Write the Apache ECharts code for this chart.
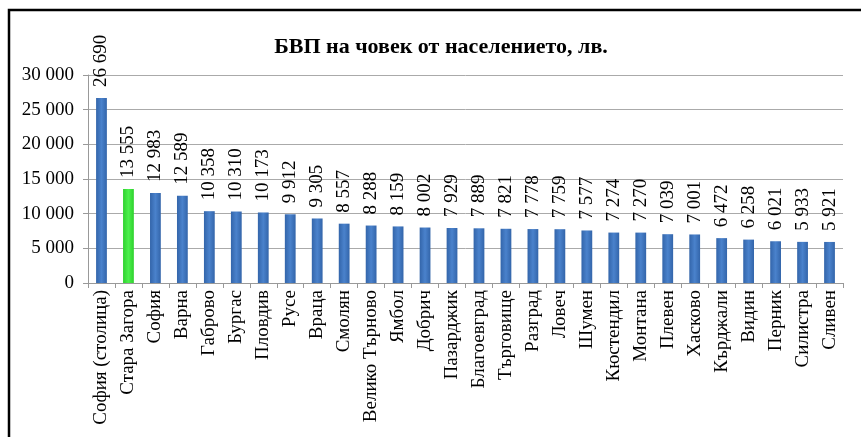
<!DOCTYPE html>
<html><head><meta charset="utf-8">
<script src="https://cdn.jsdelivr.net/npm/echarts@6/dist/echarts.min.js"></script>
<style>html,body{margin:0;padding:0;background:#fff}#c{width:861px;height:437px}</style>
</head><body><div id="c"></div>
<script>
const categories = ["София (столица)","Стара Загора","София","Варна","Габрово","Бургас","Пловдив","Русе","Враца","Смолян","Велико Търново","Ямбол","Добрич","Пазарджик","Благоевград","Търговище","Разград","Ловеч","Шумен","Кюстендил","Монтана","Плевен","Хасково","Кърджали","Видин","Перник","Силистра","Сливен"];
const values = [26690,13555,12983,12589,10358,10310,10173,9912,9305,8557,8288,8159,8002,7929,7889,7821,7778,7759,7577,7274,7270,7039,7001,6472,6258,6021,5933,5921];
const highlighted = ["Стара Загора"];
const yTicks = [0,5000,10000,15000,20000,25000,30000];

function fmt(v){ return String(v).replace(/\B(?=(\d{3})+(?!\d))/g,' '); }
const blue = new echarts.graphic.LinearGradient(0,0,1,0,[{offset:0,color:'#3365aa'},{offset:0.5,color:'#4a82cc'},{offset:1,color:'#3365aa'}]);
const green = new echarts.graphic.LinearGradient(0,0,1,0,[{offset:0,color:'#2ed12e'},{offset:0.5,color:'#4cf04c'},{offset:1,color:'#2ed12e'}]);
const chart = echarts.init(document.getElementById('c'));
const font = '"Liberation Serif","Times New Roman",serif';
chart.setOption({
  backgroundColor:'#fff',
  animation:false,
  title:{text:'БВП на човек от населението, лв.',left:436,textAlign:'center',top:31,textStyle:{fontFamily:font,fontWeight:'bold',fontSize:22,color:'#000'}},
  grid:{left:88,right:18,top:75,bottom:154,containLabel:false},
  xAxis:{type:'category',data:categories,
    axisLine:{lineStyle:{color:'#999'}},
    axisTick:{show:true,alignWithLabel:false,length:5,lineStyle:{color:'#999'}},
    axisLabel:{rotate:90,interval:0,fontFamily:font,fontSize:19,color:'#000',margin:7}},
  yAxis:{type:'value',min:yTicks[0],max:yTicks[yTicks.length-1],interval:5000,
    axisLine:{show:true,lineStyle:{color:'#999'}},
    axisTick:{show:true,length:5,lineStyle:{color:'#999'}},
    splitLine:{lineStyle:{color:'#aaa'}},
    axisLabel:{formatter:fmt,fontFamily:font,fontSize:19,color:'#000',margin:14}},
  series:[{type:'bar',barWidth:'40%',
    data:values.map((v,i)=>({value:v,itemStyle:{color:highlighted.includes(categories[i])?green:blue}})),
    label:{show:true,position:'top',rotate:90,align:'left',verticalAlign:'middle',distance:11,
      formatter:p=>fmt(p.value),fontFamily:font,fontSize:19,color:'#000'}}],
  graphic:[{type:'rect',shape:{x:9,y:10,width:900,height:500},style:{fill:'none',stroke:'#000',lineWidth:2.5},silent:true}]
});
</script></body></html>
